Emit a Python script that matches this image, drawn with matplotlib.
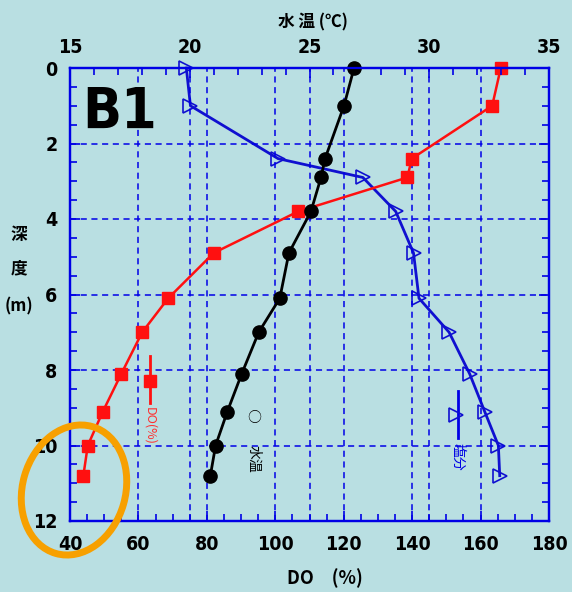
import matplotlib
matplotlib.use("Agg")
import matplotlib.pyplot as plt
from matplotlib.patches import Ellipse
from matplotlib.ticker import MultipleLocator

# 観測深度 (m)
depth = [0.0, 1.0, 2.4, 2.9, 3.8, 4.9, 6.1, 7.0, 8.1, 9.1, 10.0, 10.8]
# 水温 (℃)
temp = [26.86, 26.44, 25.65, 25.48, 25.06, 24.14, 23.76, 22.88, 22.17, 21.57, 21.08, 20.86]
# DO 飽和度 (%)
do_pct = [165.9, 163.4, 139.9, 138.6, 106.7, 82.0, 68.7, 61.1, 55.0, 49.6, 45.2, 43.9]
# 塩分
salinity = [8.5, 8.8, 15.2, 21.4, 23.8, 25.1, 25.5, 27.7, 29.2, 30.3, 31.3, 31.4]

station = "B1"
BG = "#B9DFE2"
BLUE = "#0000E6"
RED = "#FF1010"

num_font = ["DejaVu Sans"]
jp_font = ["Noto Sans CJK JP", "DejaVu Sans"]

fig = plt.figure(figsize=(5.72, 5.92), dpi=100, facecolor=BG)
pos = [70 / 572, 1 - 521 / 592, 479 / 572, 453 / 592]

ax = fig.add_axes(pos)          # DO (下軸)
ax_t = ax.twiny()               # 水温 (上軸)
ax_s = ax.twiny()               # 塩分 (軸非表示)
ax_s.set_zorder(1)
ax.set_zorder(2)
ax_t.set_zorder(3)
for a in (ax, ax_t, ax_s):
    a.patch.set_visible(False)

ax.set_xlim(40, 180)
ax.set_ylim(12, 0)
ax_t.set_xlim(15, 35)
ax_s.set_xlim(0, 35)
ax_s.axis("off")

# グリッド
for v in [60, 80, 100, 120, 140, 160]:
    ax.axvline(v, color=BLUE, ls=(0, (4, 3)), lw=1.1, zorder=0)
for v in [20, 25, 30]:
    ax_t.axvline(v, color=BLUE, ls=(0, (4, 3)), lw=1.1, zorder=0)
for d in [2, 4, 6, 8, 10]:
    ax.axhline(d, color=BLUE, ls=(0, (4, 3)), lw=1.1, zorder=0)

# データ
ax_s.plot(salinity, depth, color="#1010D0", lw=2, marker=">", ms=10,
          mfc="none", mec="#1010D0", mew=1.2, clip_on=False)
ax.plot(do_pct, depth, color=RED, lw=1.8, marker="s", ms=9, clip_on=False)
ax_t.plot(temp, depth, color="black", lw=2, marker="o", ms=9.5, clip_on=False)

# 軸・目盛
for a in (ax, ax_t):
    for s in a.spines.values():
        s.set_color(BLUE)
        s.set_linewidth(1.6)
ax.xaxis.set_major_locator(MultipleLocator(20))
ax.xaxis.set_minor_locator(MultipleLocator(5))
ax.yaxis.set_major_locator(MultipleLocator(2))
ax.yaxis.set_minor_locator(MultipleLocator(0.5))
ax_t.xaxis.set_major_locator(MultipleLocator(5))
ax_t.xaxis.set_minor_locator(MultipleLocator(1))
ax.tick_params(which="both", direction="in", color=BLUE, width=1.2,
               left=True, right=True, bottom=True, top=False)
ax.tick_params(which="major", length=7)
ax.tick_params(which="minor", length=5)
ax_t.tick_params(which="both", direction="in", color=BLUE, width=1.2)
ax_t.tick_params(which="major", length=7)
ax_t.tick_params(which="minor", length=5)
ax.tick_params(axis="x", pad=10)
ax.tick_params(axis="y", pad=9)
ax_t.tick_params(axis="x", pad=8)

for lab in ax.get_xticklabels() + ax.get_yticklabels() + ax_t.get_xticklabels():
    lab.set_fontfamily(num_font)
    lab.set_fontweight("bold")
    lab.set_fontstretch("condensed")
    lab.set_fontsize(14)

# 見出し
fig.text(313 / 572, 1 - 22 / 592, "水 温 (℃)", ha="center", va="center",
         family=jp_font, weight="bold", fontsize=12)
fig.text(325 / 572, 1 - 578 / 592, "DO\u3000(%)", ha="center", va="center",
         family=jp_font, weight="bold", fontsize=13)
for ch, yy in [("深", 235), ("度", 268), ("(m)", 306)]:
    fig.text(19 / 572, 1 - yy / 592, ch, ha="center", va="center",
             family=jp_font, weight="bold", fontsize=12)
ax.text(0.025, 0.96, station, transform=ax.transAxes, ha="left", va="top",
        family=num_font, fontstretch="condensed", weight="bold", fontsize=41)

# 凡例とマーク (ピクセル座標のオーバーレイ)
ov = fig.add_axes([0, 0, 1, 1], zorder=10)
ov.set_xlim(0, 572)
ov.set_ylim(592, 0)
ov.axis("off")

ov.plot([150, 150], [356, 403], color=RED, lw=2)
ov.plot([150], [381], marker="s", color=RED, ms=9)
ov.text(150, 407, "DO(%)", rotation=-90, ha="center", va="top",
        color="#FF3030", family=jp_font, fontsize=9)

ov.text(254, 418, "○", ha="center", va="center", color="black",
        family=jp_font, fontsize=10)
ov.text(254, 445, "水温", rotation=-90, ha="center", va="top",
        color="black", family=jp_font, fontsize=10)

ov.plot([458, 458], [391, 438], color=BLUE, lw=2)
ov.plot([456], [415], marker=">", ms=10, mfc="none", mec="#1010D0", mew=1.2)
ov.text(458, 443, "塩分", rotation=-90, ha="center", va="top",
        color=BLUE, family=jp_font, fontsize=10)

ov.add_patch(Ellipse((74, 490), width=103, height=132, angle=16,
                     fill=False, ec="#F7A000", lw=5))

fig.savefig("out.png", dpi=100, facecolor=BG)
